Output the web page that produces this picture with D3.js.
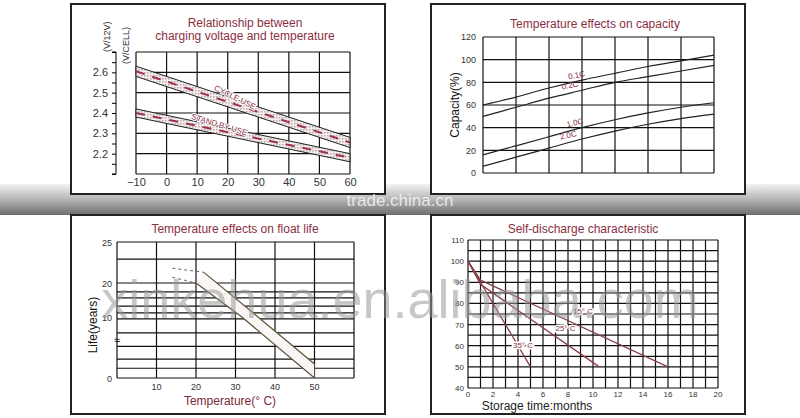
<!DOCTYPE html>
<html><head><meta charset="utf-8">
<script src="https://cdn.jsdelivr.net/npm/d3@7"></script>
<style>body{margin:0;background:#fff}svg{display:block;font-family:Arial,"Liberation Sans",sans-serif}</style>
</head><body>
<svg id="c" width="800" height="418"></svg>
<script>
// panel 1: charging voltage vs temperature
const volTemps = [-10, 60]
const cycleTop = [2.63, 2.28], cycleBot = [2.58, 2.23]
const standTop = [2.42, 2.20], standBot = [2.38, 2.16]
const volTicks = [2.2, 2.3, 2.4, 2.5, 2.6]
// panel 2: capacity vs temperature (grid columns 0..7)
const capX = [0, 1, 2, 3, 4, 5, 6, 7]
const cap01 = [60, 67, 75, 82, 88, 94, 99, 104]
const cap02 = [50, 58, 66, 73, 80, 85, 90, 95]
const cap10 = [16, 24, 32, 40, 47, 53, 58, 62]
const cap20 = [6, 14, 22, 30, 37, 43, 48, 52]
const capTicks = [0, 20, 40, 60, 80, 100, 120]
// panel 3: float life
const lifeGrid = [0, 1.6, 3.1, 5.2, 7.4, 9.7, 11.2, 13.2, 15.6, 17.4, 20, 22.9, 25]
const lifeUpperDash = [[14, 21.8], [22, 21.3]], lifeLowerDash = [[14, 20.7], [20, 20]]
const lifeUpper = [[22, 21.3], [35.7, 10], [50, 2.3]]
const lifeLower = [[20, 20], [31.6, 10], [50, 0]]
// panel 4: self-discharge
const sd15 = [[0, 100], [1, 91], [16, 50]]
const sd25 = [[0, 100], [1, 89], [10.5, 50]]
const sd35 = [[0, 100], [5, 50]]

const svg = d3.select('#c')
const red = '#8a2f3f', ink = '#111'

// gray shadow band between rows
const g0 = svg.append('defs')
const lg = g0.append('linearGradient').attr('id', 'band').attr('x1', 0).attr('x2', 0).attr('y1', 0).attr('y2', 1)
lg.append('stop').attr('offset', 0).attr('stop-color', '#f2f2f2')
lg.append('stop').attr('offset', 0.5).attr('stop-color', '#b5b5b5')
lg.append('stop').attr('offset', 1).attr('stop-color', '#6d6d6d')
svg.append('rect').attr('x', 0).attr('y', 184).attr('width', 800).attr('height', 31).attr('fill', 'url(#band)')
const pat = g0.append('pattern').attr('id', 'hatch').attr('width', 3).attr('height', 3).attr('patternUnits', 'userSpaceOnUse')
pat.append('rect').attr('width', 3).attr('height', 3).attr('fill', '#f4eeee')
pat.append('rect').attr('width', 1.5).attr('height', 1.5).attr('fill', '#b9a9ab')

function box(x, y, w, h) {
  svg.append('rect').attr('x', x).attr('y', y).attr('width', w).attr('height', h)
    .attr('fill', '#fff').attr('stroke', '#222').attr('stroke-width', 2)
}
function title(x, y, t) {
  svg.append('text').attr('x', x).attr('y', y).attr('text-anchor', 'middle').attr('fill', red)
    .attr('font-size', 12).text(t)
}
function grid(g, xs, ys, x, y) {
  g.selectAll('.v').data(xs).join('line').attr('x1', d => x(d)).attr('x2', d => x(d))
    .attr('y1', y.range()[0]).attr('y2', y.range()[y.range().length - 1]).attr('stroke', ink).attr('stroke-width', 1.2)
  g.selectAll('.h').data(ys).join('line').attr('y1', d => y(d)).attr('y2', d => y(d))
    .attr('x1', x.range()[0]).attr('x2', x.range()[x.range().length - 1]).attr('stroke', ink).attr('stroke-width', 1.2)
}

// ---------- panel 1
box(71, 4, 314, 190)
title(245, 27, 'Relationship between')
title(245, 40, 'charging voltage and temperature')
{
  const x = d3.scaleLinear().domain([-10, 60]).range([136, 350])
  const y = d3.scaleLinear().domain([2.1, 2.7]).range([174, 52])
  const g = svg.append('g')
  grid(g, d3.range(-10, 61, 10), d3.range(2.1, 2.71, 0.1), x, y)
  g.append('g').attr('transform', 'translate(116,0)')
    .call(d3.axisLeft(y).tickValues(d3.range(2.1, 2.71, 0.05)).tickSize(4).tickFormat(d => volTicks.some(v => Math.abs(v - d) < 1e-6) ? d.toFixed(1) : ''))
    .call(a => a.select('.domain').attr('d', 'M-4,52H0V174H-4'))
    .selectAll('text').attr('font-size', 11).attr('fill', '#333').attr('x', -8)
  g.append('g').attr('transform', 'translate(0,174)')
    .call(d3.axisBottom(x).tickValues(d3.range(-10, 61, 10)).tickSize(0).tickPadding(4))
    .call(a => a.select('.domain').remove())
    .selectAll('text').attr('font-size', 11).attr('fill', '#333')
  const bands = [[cycleTop, cycleBot], [standTop, standBot]]
  bands.forEach(([t, b]) => {
    const area = d3.area().x((d, i) => x(volTemps[i])).y0((d, i) => y(b[i])).y1(d => y(d))
    g.append('path').attr('d', area(t)).attr('fill', 'url(#hatch)').attr('stroke', '#222').attr('stroke-width', 1)
    const mid = t.map((v, i) => (v + b[i]) / 2)
    g.append('path').attr('d', d3.line().x((d, i) => x(volTemps[i])).y(d => y(d))(mid))
      .attr('stroke', '#a0304a').attr('stroke-width', 2).attr('stroke-dasharray', '9 8').attr('fill', 'none')
  })
  const ang = Math.atan2(y(cycleTop[1]) - y(cycleTop[0]), x(60) - x(-10)) * 180 / Math.PI
  g.append('text').attr('transform', `translate(${x(22)},${y(2.465)}) rotate(${ang + 8})`).attr('fill', red)
    .attr('font-size', 8).attr('text-anchor', 'middle').attr('paint-order', 'stroke').attr('stroke', '#fff').attr('stroke-width', 2)
    .text('CYCLE USE')
  const ang2 = Math.atan2(y(standTop[1]) - y(standTop[0]), x(60) - x(-10)) * 180 / Math.PI
  g.append('text').attr('transform', `translate(${x(17)},${y(2.33)}) rotate(${ang2 + 5})`).attr('fill', red)
    .attr('font-size', 8).attr('text-anchor', 'middle').attr('paint-order', 'stroke').attr('stroke', '#fff').attr('stroke-width', 2)
    .text('STAND BY USE')
  svg.append('text').attr('transform', 'translate(110,52) rotate(-90)').attr('font-size', 9).attr('fill', '#333').text('(V/12V)')
  svg.append('text').attr('transform', 'translate(129,64) rotate(-90)').attr('font-size', 9).attr('fill', '#333').text('(V/CELL)')
}

// ---------- panel 2
box(431, 4, 314, 190)
title(595, 28, 'Temperature effects on capacity')
{
  const x = d3.scaleLinear().domain([0, 7]).range([483, 714])
  const y = d3.scaleLinear().domain([0, 120]).range([173, 37])
  const g = svg.append('g')
  grid(g, capX, d3.range(0, 121, 20), x, y)
  g.append('g').attr('transform', 'translate(483,0)')
    .call(d3.axisLeft(y).tickValues(capTicks).tickSize(0).tickPadding(7))
    .call(a => a.select('.domain').remove())
    .selectAll('text').attr('font-size', 9).attr('fill', '#333')
  const line = d3.line().x((d, i) => x(capX[i])).y(d => y(d)).curve(d3.curveMonotoneX)
  const series = [[cap01, '0.1C', 2.85, 84], [cap02, '0.2C', 2.65, 75], [cap10, '1.0C', 2.8, 42], [cap20, '2.0C', 2.6, 31]]
  series.forEach(([s, lab, lx, ly]) => {
    g.append('path').attr('d', line(s)).attr('fill', 'none').attr('stroke', '#222').attr('stroke-width', 1.2)
    g.append('text').attr('transform', `translate(${x(lx)},${y(ly)}) rotate(-12)`).attr('text-anchor', 'middle')
      .attr('font-size', 8).attr('fill', red).text(lab)
  })
  svg.append('text').attr('transform', 'translate(459,105) rotate(-90)').attr('text-anchor', 'middle')
    .attr('font-size', 12).attr('fill', '#111').text('Capacity(%)')
}

// ---------- panel 3
box(71, 215, 314, 199)
title(235, 233, 'Temperature effects on float life')
{
  const x = d3.scaleLinear().domain([0, 60]).range([117, 354])
  const y = d3.scaleLinear().domain([0, 10, 20, 25]).range([378, 317, 283, 242])
  const g = svg.append('g')
  grid(g, d3.range(0, 61, 10), lifeGrid, x, y)
  g.selectAll('.yl').data([0, 10, 20, 25]).join('text').attr('x', 112).attr('y', d => y(d) + 4)
    .attr('text-anchor', 'end').attr('font-size', 9).attr('fill', '#333').text(d => d)
  g.selectAll('.xl').data([10, 20, 30, 40, 50]).join('text').attr('x', d => x(d)).attr('y', 390)
    .attr('text-anchor', 'middle').attr('font-size', 9).attr('fill', '#333').text(d => d)
  const poly = lifeUpper.concat(lifeLower.slice().reverse())
  g.append('path').attr('d', d3.line().x(d => x(d[0])).y(d => y(d[1]))(poly) + 'Z').attr('fill', '#fbf5f5').attr('stroke', 'none')
  const ln = d3.line().x(d => x(d[0])).y(d => y(d[1]))
  ;[lifeUpper, lifeLower].forEach(p => g.append('path').attr('d', ln(p)).attr('fill', 'none').attr('stroke', '#553').attr('stroke-width', 1.2))
  g.append('line').attr('x1', x(50)).attr('x2', x(50)).attr('y1', y(0)).attr('y2', y(2.3)).attr('stroke', '#553')
  ;[lifeUpperDash, lifeLowerDash].forEach(p => g.append('path').attr('d', d3.line().x(d => x(d[0])).y(d => y(d[1])).curve(d3.curveMonotoneX)(p))
    .attr('fill', 'none').attr('stroke', '#666').attr('stroke-dasharray', '3 3'))
  svg.append('text').attr('x', 117).attr('y', 344).attr('text-anchor', 'middle').attr('font-size', 11).text('≈')
  svg.append('text').attr('transform', 'translate(97,325) rotate(-90)').attr('text-anchor', 'middle')
    .attr('font-size', 12).attr('fill', '#111').text('Life(years)')
  svg.append('text').attr('x', 230).attr('y', 405).attr('text-anchor', 'middle')
    .attr('font-size', 12).attr('fill', '#7a2a36').text('Temperature(° C)')
}

// ---------- panel 4
box(431, 215, 314, 199)
title(583, 233, 'Self-discharge characteristic')
{
  const x = d3.scaleLinear().domain([0, 20]).range([468, 718])
  const y = d3.scaleLinear().domain([40, 110]).range([388, 240])
  const g = svg.append('g')
  grid(g, d3.range(0, 21, 1), d3.range(40, 111, 5), x, y)
  g.selectAll('.yl').data(d3.range(40, 111, 10)).join('text').attr('x', 464).attr('y', d => y(d) + 3)
    .attr('text-anchor', 'end').attr('font-size', 8).attr('fill', '#333').text(d => d)
  g.selectAll('.xl').data(d3.range(0, 21, 2)).join('text').attr('x', d => x(d)).attr('y', 397)
    .attr('text-anchor', 'middle').attr('font-size', 8).attr('fill', '#333').text(d => d)
  const ln = d3.line().x(d => x(d[0])).y(d => y(d[1]))
  const series = [[sd15, '15° C', 9.2, 75], [sd25, '25° C', 7.8, 67], [sd35, '35° C', 4.4, 59]]
  series.forEach(([s, lab, lx, ly]) => {
    g.append('path').attr('d', ln(s)).attr('fill', 'none').attr('stroke', '#8a3e48').attr('stroke-width', 1.3)
    g.append('text').attr('x', x(lx)).attr('y', y(ly)).attr('text-anchor', 'middle').attr('font-size', 8)
      .attr('fill', red).attr('paint-order', 'stroke').attr('stroke', '#fff').attr('stroke-width', 3).text(lab)
  })
  svg.append('text').attr('x', 537).attr('y', 410).attr('text-anchor', 'middle')
    .attr('font-size', 12).attr('fill', '#222').text('Storage  time:months')
}

// watermarks
svg.append('text').attr('x', 400).attr('y', 206).attr('text-anchor', 'middle').attr('font-size', 17)
  .attr('fill', '#fff').attr('fill-opacity', 0.75).text('trade.china.cn')
svg.append('text').attr('x', 400).attr('y', 318).attr('text-anchor', 'middle').attr('font-size', 54)
  .attr('font-family', 'Arial, sans-serif').attr('fill', '#999').attr('fill-opacity', 0.55).text('xinkehua.en.alibaba.com')
</script>
</body></html>
